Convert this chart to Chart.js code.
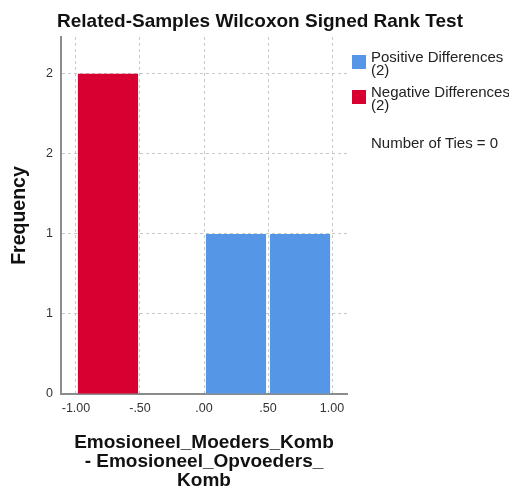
<!DOCTYPE html>
<html>
<head>
<meta charset="utf-8">
<script src="https://cdn.jsdelivr.net/npm/chart.js@4.4.0/dist/chart.umd.min.js"></script>
<style>
html, body { margin: 0; padding: 0; background: #fff; }
#wrap { position: relative; width: 509px; height: 488px; font-family: "Liberation Sans", Arial, sans-serif; }
#title { position: absolute; left: 0; top: 10px; width: 520px; text-align: center; font-weight: bold; font-size: 19px; line-height: 22px; color: #111; }
.item { position: absolute; left: 352px; width: 160px; font-size: 15px; line-height: 13px; color: #222; }
.item .box { position: absolute; left: 0; width: 14px; height: 14px; }
.item .txt { position: absolute; left: 19px; top: 0; white-space: nowrap; }
#ties { position: absolute; left: 371px; top: 136px; font-size: 15px; line-height: 13px; color: #222; white-space: nowrap; }
</style>
</head>
<body>
<div id="wrap">
    <canvas id="chart" width="509" height="488"></canvas>
    <div id="title">Related-Samples Wilcoxon Signed Rank Test</div>
    <div id="legend"></div>
    <div id="ties"></div>
</div>
<script>
// histogram bins (centre of each .50 wide bin)
const binCenters = [-0.75, -0.25, 0.25, 0.75]
const positiveCounts = [null, null, 1, 1]
const negativeCounts = [2, null, null, null]
const numberOfTies = 0

const xTickValues = [-1, -0.5, 0, 0.5, 1]
const xTickLabels = ["-1.00", "-.50", ".00", ".50", "1.00"]
const yTickValues = [0, 0.5, 1, 1.5, 2]
const yTickLabels = ["0", "1", "1", "2", "2"]

const xTitle = ["Emosioneel_Moeders_Komb", "- Emosioneel_Opvoeders_", "Komb"]

const blue = "#5596e6"
const red = "#d70031"

Chart.defaults.font.family = "'Liberation Sans', Arial, sans-serif"

const datasets = [
    {
        label: "Positive Differences",
        data: binCenters.map((x, i) => ({ x: x, y: positiveCounts[i] })),
        backgroundColor: blue,
        count: positiveCounts.reduce((a, b) => a + (b || 0), 0)
    },
    {
        label: "Negative Differences",
        data: binCenters.map((x, i) => ({ x: x, y: negativeCounts[i] })),
        backgroundColor: red,
        count: negativeCounts.reduce((a, b) => a + (b || 0), 0)
    }
]

// legend on the right
const legend = document.getElementById("legend")
datasets.forEach((ds, i) => {
    const item = document.createElement("div")
    item.className = "item"
    item.style.top = (50 + i * 35) + "px"
    item.innerHTML =
        `<div class="box" style="top:5px;background:${ds.backgroundColor}"></div>` +
        `<div class="txt">${ds.label}<br>(${ds.count})</div>`
    legend.appendChild(item)
})
document.getElementById("ties").innerText = "Number of Ties = " + numberOfTies

const ctx = document.getElementById("chart").getContext("2d")

new Chart(ctx, {
    type: "bar",
    data: { datasets: datasets },
    options: {
        responsive: false,
        animation: false,
        grouped: false,
        categoryPercentage: 1,
        barPercentage: 0.94,
        layout: { padding: { top: 37, right: 162, left: 0, bottom: 0 } },
        plugins: {
            legend: { display: false },
            tooltip: { enabled: false }
        },
        scales: {
            x: {
                type: "linear",
                min: -1.117,
                max: 1.117,
                offset: false,
                afterFit: (s) => { s.height = 94 },
                afterBuildTicks: (s) => { s.ticks = xTickValues.map(v => ({ value: v })) },
                grid: { offset: false, color: "#c8c8c8", drawTicks: false },
                border: { display: true, color: "#8c8c8c", width: 2, dash: [3, 3] },
                ticks: {
                    padding: 7,
                    autoSkip: false,
                    maxRotation: 0,
                    color: "#333",
                    font: { size: 12.5 },
                    callback: (v, i) => xTickLabels[i]
                },
                title: {
                    display: true,
                    text: xTitle,
                    color: "#111",
                    font: { size: 19, weight: "bold", lineHeight: 1 },
                    padding: { top: 0, bottom: -2.5 }
                }
            },
            y: {
                min: 0,
                max: 2.23,
                afterFit: (s) => { s.width = 61 },
                afterBuildTicks: (s) => { s.ticks = yTickValues.map(v => ({ value: v })) },
                grid: { color: "#c8c8c8", drawTicks: false },
                border: { display: true, color: "#8c8c8c", width: 2, dash: [3, 3] },
                ticks: {
                    padding: 8,
                    color: "#333",
                    font: { size: 12.5 },
                    callback: (v, i) => yTickLabels[i]
                },
                title: {
                    display: true,
                    text: "Frequency",
                    color: "#111",
                    font: { size: 19.5, weight: "bold" },
                    padding: { top: 8, bottom: 0 }
                }
            }
        }
    }
})
</script>
</body>
</html>
